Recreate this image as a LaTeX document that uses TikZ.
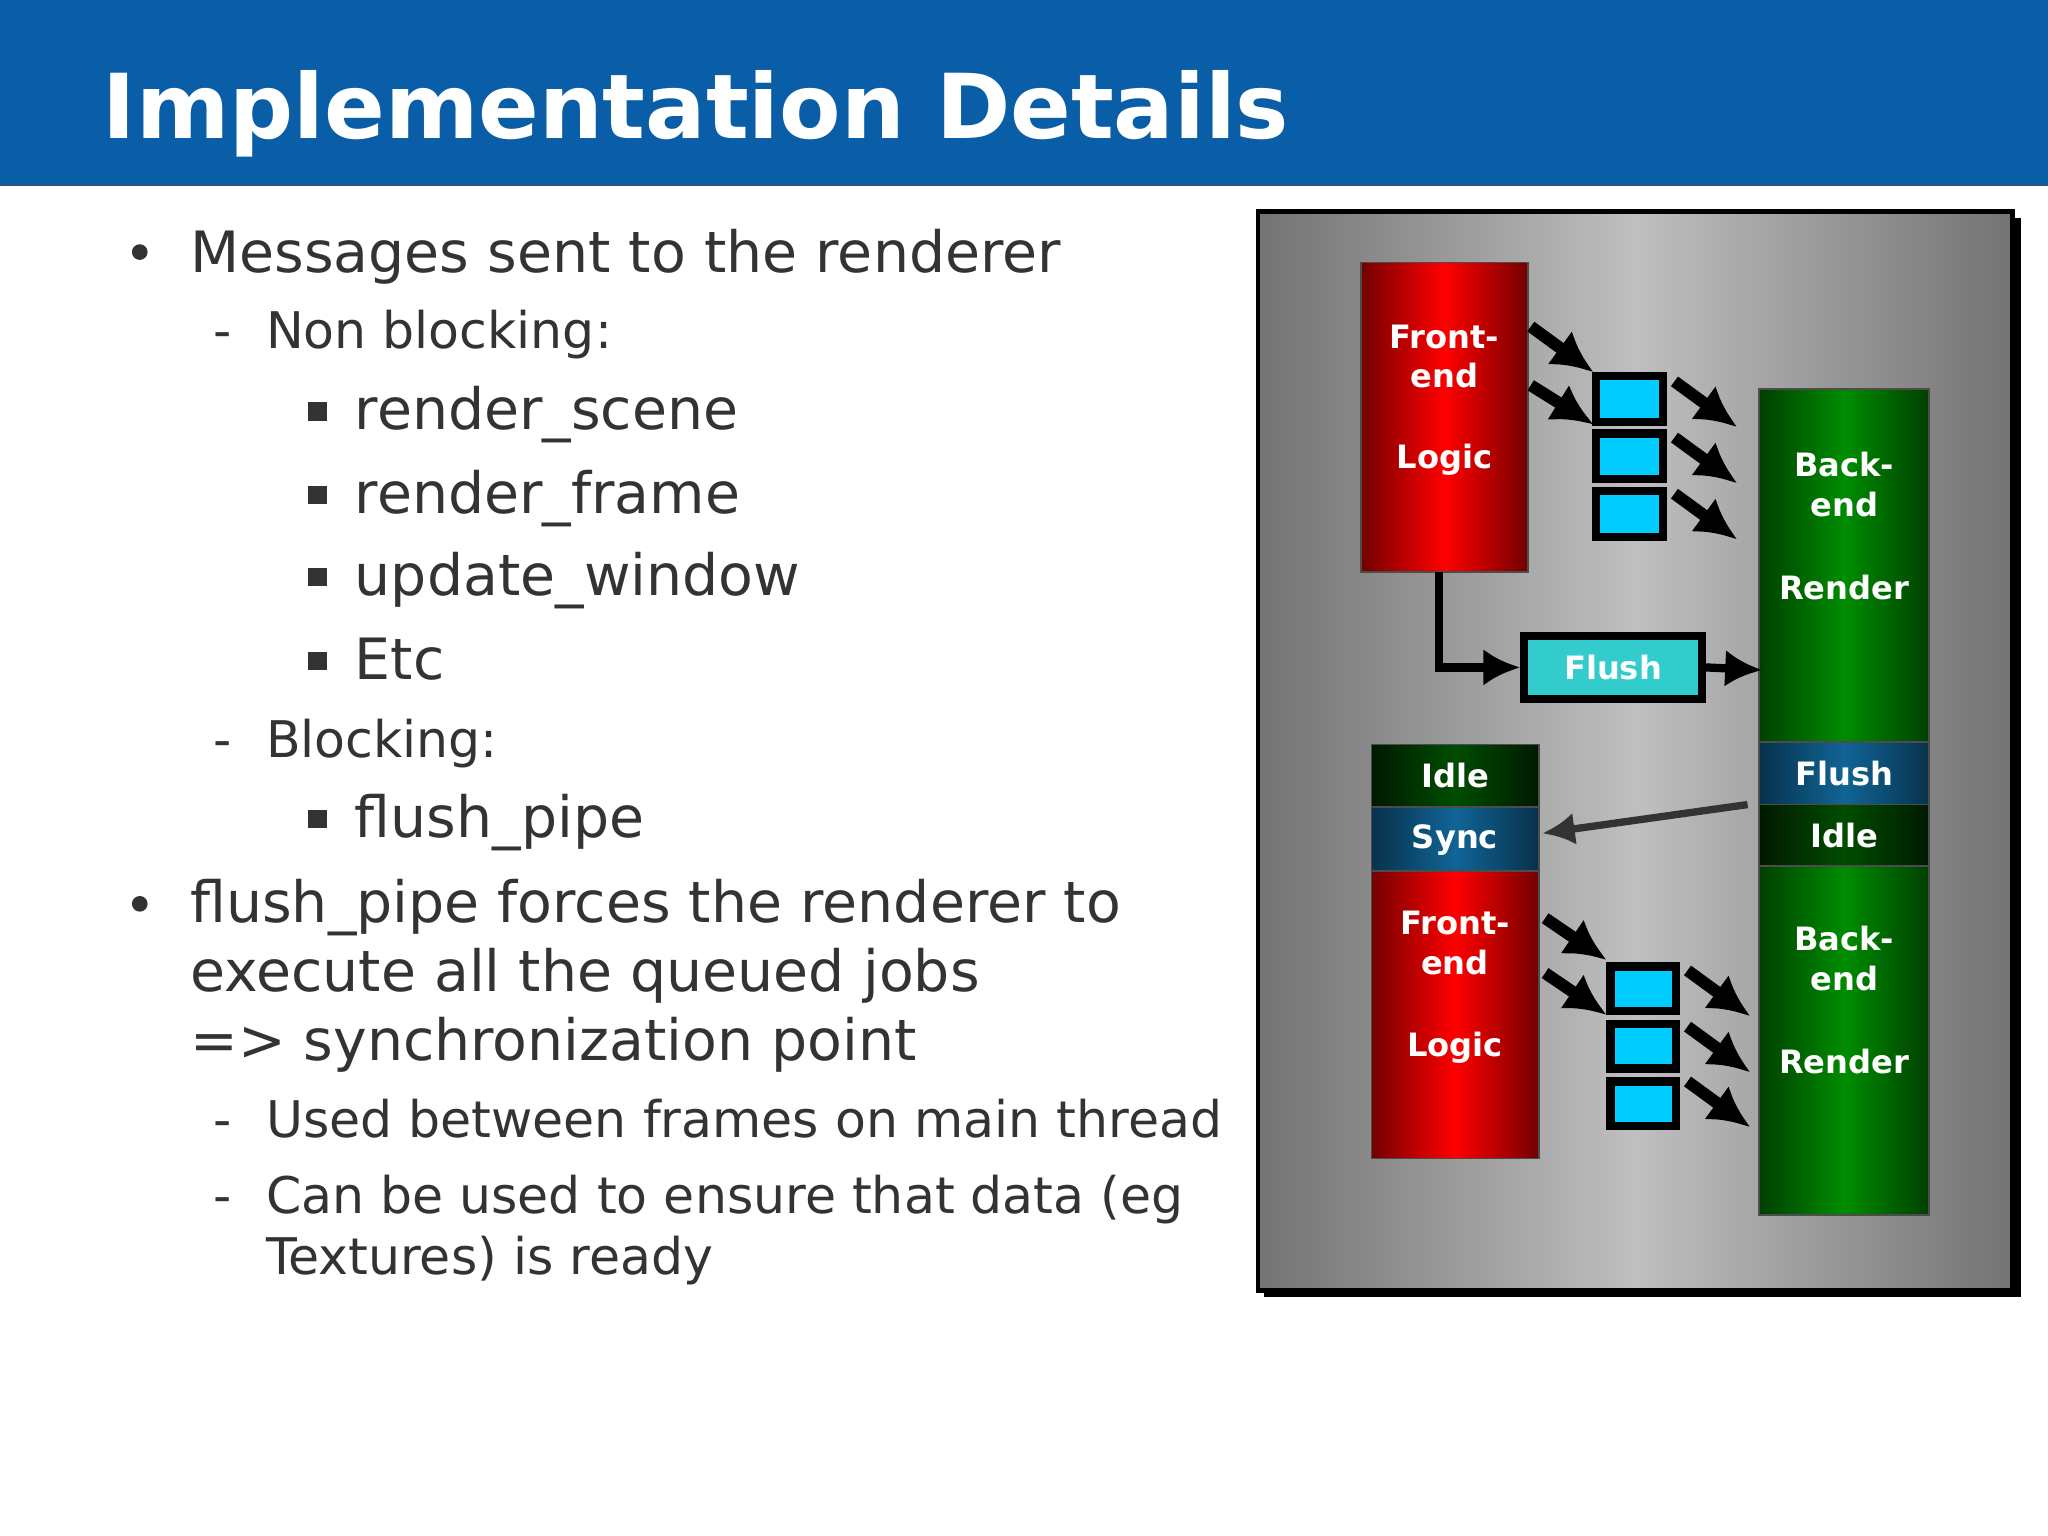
\documentclass[tikz,border=0pt]{standalone}
\usepackage{fontspec}
\setmainfont{DejaVu Sans}
\usetikzlibrary{arrows.meta,positioning}
\definecolor{titleblue}{RGB}{10,94,168}
\definecolor{txt}{RGB}{51,51,51}
\definecolor{cyanbox}{RGB}{0,204,255}
\definecolor{flushteal}{RGB}{51,204,204}
\definecolor{syncblue}{RGB}{16,100,150}
\tikzset{
  redbox/.style={draw=black!70, left color=red!45!black, right color=red!45!black, middle color=red},
  greenbox/.style={draw=black!70, left color=green!25!black, right color=green!25!black, middle color=green!55!black},
  idlebox/.style={draw=black!70, left color=green!10!black, right color=green!10!black, middle color=green!30!black},
  syncbox/.style={draw=black!70, left color=syncblue!50!black, right color=syncblue!50!black, middle color=syncblue},
  qbox/.style={draw=black, line width=1.8pt, fill=cyanbox},
  lbl/.style={text=white, font=\fontsize{7}{8.6}\selectfont\bfseries, align=center},
  push/.style={line width=2.6pt, -{Latex[length=9pt,width=9pt]}},
  flow/.style={line width=1.8pt, -{Latex[length=8pt,width=8pt]}},
  lvlone/.style={anchor=base west, text=txt, font=\fontsize{12.4}{15}\selectfont, inner sep=0pt},
  lvltwo/.style={anchor=base west, text=txt, font=\fontsize{11}{13}\selectfont, inner sep=0pt},
  lvlthree/.style={anchor=base west, text=txt, font=\fontsize{12.4}{15}\selectfont, inner sep=0pt}
}
\begin{document}
\begin{tikzpicture}[x=0.01cm, y=-0.01cm]
    \useasboundingbox (0,0) rectangle (1568,1176);
    % Title
    \fill[titleblue] (0,0) rectangle (1568,142);
    \draw[black!70] (0,142) -- (1568,142);
    \node[anchor=base west, text=white, font=\fontsize{19.5}{23}\selectfont\bfseries, inner sep=0pt] (title) at (78,106) {Implementation Details};

    % Bullets
    \node[lvlone] (b1) at (145,209) {Messages sent to the renderer};
    \fill[txt] (107,193) circle (6);
    \node[lvltwo] (nb) at (203,267) {Non blocking:};
    \node[lvltwo] at (163,267) {-};
    \foreach \t/\y in {render\_scene/329, render\_frame/393, update\_window/456, Etc/520}
    {\fill[txt] (236,\y-21) rectangle ++(14,14);
     \node[lvlthree] at (271,\y) {\t};}
    \node[lvltwo] (bl) at (203,580) {Blocking:};
    \node[lvltwo] at (163,580) {-};
    \fill[txt] (236,620) rectangle ++(14,14);
    \node[lvlthree] (fp) at (271,641) {flush\_pipe};
    \fill[txt] (107,692) circle (6);
    \node[lvlone] (b2) at (145,706) {flush\_pipe forces the renderer to};
    \node[lvlone] at (145,759) {execute all the queued jobs};
    \node[lvlone] at (145,812) {=> synchronization point};
    \node[lvltwo] at (163,871) {-};
    \node[lvltwo] (ub) at (203,871) {Used between frames on main thread};
    \node[lvltwo] at (163,929) {-};
    \node[lvltwo] (cb) at (203,929) {Can be used to ensure that data (eg};
    \node[lvltwo] at (203,976) {Textures) is ready};

    % Diagram frame
    \fill[black] (968,167) rectangle (1547,993);
    \shade[left color=black!55, right color=black!55, middle color=black!25, draw=black, line width=1pt] (963,162) rectangle (1541,988);

    % Upper frame
    \draw[redbox] (1042,201) rectangle (1170,438);
    \node[lbl] (fe1) at (1106,273) {Front-\\end};
    \node[lbl] (lg1) at (1106,352) {Logic};
    \coordinate (fe1b) at (1102,438);
    \draw[greenbox] (1347,298) rectangle (1477,568);
    \node[lbl] (be1) at (1412,371) {Back-\\end};
    \node[lbl] (rd1) at (1412,450) {Render};
    \foreach \y in {288,332,376}
    {\draw[qbox] (1222,\y) rectangle ++(51,35);}
    \draw[push] (1172,250) -- (1220,285);
    \draw[push] (1172,295) -- (1220,325);
    \foreach \y in {292,335,378}
    {\draw[push] (1282,\y) -- (1330,\y+35);}
    \node[draw=black, line width=1.8pt, fill=flushteal, minimum width=1.36cm, minimum height=0.48cm, lbl, inner sep=0pt] (fl) at (1235,511) {Flush};
    \draw[flow] (fe1b) |- (fl.west);
    \coordinate (be1w) at (1349,513);
    \draw[flow] (fl.east) -- (be1w);

    % Lower frame
    \draw[syncbox] (1347,568) rectangle (1477,616);
    \node[lbl] (fl2) at (1412,592) {Flush};
    \draw[idlebox] (1347,616) rectangle (1477,663);
    \node[lbl] (id2) at (1412,640) {Idle};
    \draw[greenbox] (1347,663) rectangle (1477,930);
    \node[lbl] (be2) at (1412,734) {Back-\\end};
    \node[lbl] (rd2) at (1412,813) {Render};
    \draw[idlebox] (1050,570) rectangle (1178,618);
    \node[lbl] (id1) at (1114,594) {Idle};
    \draw[syncbox] (1050,618) rectangle (1178,667);
    \node[lbl] (sy) at (1114,643) {Sync};
    \draw[redbox] (1050,667) rectangle (1178,887);
    \node[lbl] (fe2) at (1114,722) {Front-\\end};
    \node[lbl] (lg2) at (1114,802) {Logic};
    \coordinate (fl2w) at (1338,616);
    \coordinate (sye) at (1181,638);
    \draw[black!80, line width=1.6pt, -{Latex[length=7pt,width=7pt]}] (fl2w) -- (sye);
    \foreach \y in {740,784,828}
    {\draw[qbox] (1233,\y) rectangle ++(50,34);}
    \draw[push] (1183,703) -- (1230,735);
    \draw[push] (1183,745) -- (1230,777);
    \foreach \y in {743,786,828}
    {\draw[push] (1292,\y) -- (1340,\y+35);}
\end{tikzpicture}
\end{document}
